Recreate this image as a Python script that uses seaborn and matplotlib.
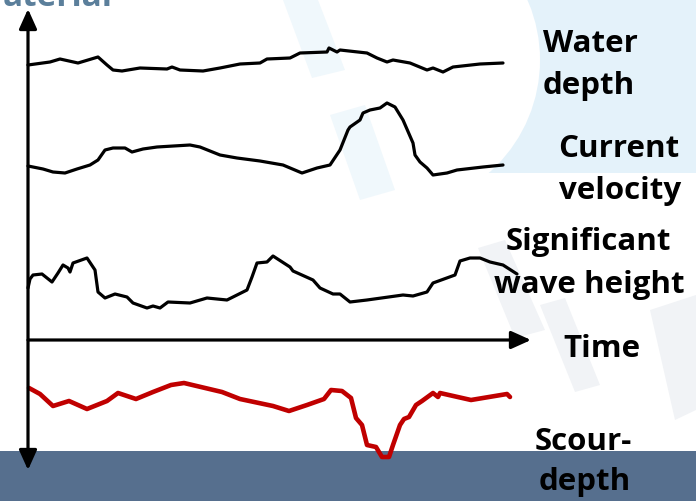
import matplotlib
matplotlib.use("Agg")
import matplotlib.pyplot as plt
import seaborn as sns
import pandas as pd
from matplotlib.patches import Polygon, Rectangle, Circle

sns.set_theme(style="white")
plt.rcParams['font.family'] = ['Open Sans', 'DejaVu Sans']

# ---- data (schematic time series; y in image units) ----
water_t = [28, 50, 60, 78, 98, 107, 113, 122, 140, 167, 172, 180, 203, 220, 240, 260, 267, 290, 300, 327, 329,
           337, 340, 367, 377, 387, 393, 410, 427, 433, 443, 453, 480, 503]
water_v = [65, 62, 59, 63, 57, 65, 70, 71, 68, 69, 67, 70, 71, 68, 64, 63, 59, 58, 53, 52, 48,
           52, 50, 53, 58, 62, 60, 63, 70, 68, 72, 67, 64, 63]

current_t = [28, 43, 53, 65, 77, 90, 98, 105, 113, 125, 132, 143, 157, 190, 200, 220, 237, 260, 283, 302, 317,
             330, 340, 348, 350, 360, 363, 370, 380, 387, 395, 403, 413, 415, 420, 427, 433, 447, 457, 483, 503]
current_v = [166, 169, 172, 173, 169, 165, 160, 150, 148, 148, 152, 149, 147, 145, 147, 155, 158, 161, 165, 173, 168,
             165, 150, 130, 127, 120, 113, 110, 108, 103, 107, 120, 143, 155, 162, 168, 175, 173, 170, 167, 165]

wave_t = [28, 30, 33, 42, 52, 58, 63, 68, 70, 73, 87, 95, 98, 105, 115, 127, 133, 147, 153, 160, 168, 190, 207,
          227, 247, 252, 257, 267, 273, 290, 293, 313, 320, 333, 340, 350, 367, 403, 413, 427, 433, 455, 460,
          470, 480, 490, 503, 517]
wave_v = [288, 279, 275, 274, 282, 273, 265, 268, 272, 263, 258, 270, 292, 298, 294, 297, 303, 308, 306, 308, 302,
          303, 298, 300, 290, 277, 263, 262, 256, 267, 271, 280, 288, 294, 294, 302, 300, 295, 296, 292, 283, 275,
          261, 258, 258, 262, 265, 274]

scour_t = [29, 40, 53, 69, 87, 107, 118, 136, 153, 171, 184, 222, 240, 273, 289, 307, 324, 331, 342, 351, 356,
           362, 367, 376, 382, 389, 393, 400, 404, 409, 416, 422, 433, 438, 440, 471, 507, 510]
scour_v = [388, 394, 406, 401, 409, 401, 393, 399, 392, 385, 383, 392, 399, 406, 411, 405, 399, 390, 391, 398, 418,
           425, 445, 447, 457, 457, 445, 425, 419, 417, 405, 401, 393, 397, 393, 400, 394, 397]

labels = ["Water\ndepth", "Current\nvelocity", "Significant\nwave height", "Time", "Scour-\ndepth"]

# ---- figure ----
fig = plt.figure(figsize=(6.96, 5.01), dpi=100)
ax = fig.add_axes([0, 0, 1, 1])

wm = '#e4f2fa'
# watermark shapes
ax.add_patch(Rectangle((440, 0), 256, 173, facecolor=wm, edgecolor='none', zorder=0))
ax.add_patch(Circle((390, 60), 150, facecolor='white', edgecolor='none', zorder=0.2))
ax.add_patch(Polygon([(283, 0), (318, 0), (345, 70), (312, 78)],
                     closed=True, facecolor='#f0f8fc', edgecolor='none', zorder=0.3))
ax.add_patch(Polygon([(330, 115), (365, 105), (395, 190), (360, 200)],
                     closed=True, facecolor='#f0f8fc', edgecolor='none', zorder=0.3))
ax.add_patch(Polygon([(478, 248), (505, 240), (545, 330), (515, 338)],
                     closed=True, facecolor='#f1f3f6', edgecolor='none', zorder=0.3))
ax.add_patch(Polygon([(540, 305), (565, 298), (600, 385), (575, 392)],
                     closed=True, facecolor='#f1f3f6', edgecolor='none', zorder=0.3))
ax.add_patch(Polygon([(650, 310), (696, 295), (696, 410), (675, 420)],
                     closed=True, facecolor='#f1f3f6', edgecolor='none', zorder=0.3))

# bottom bar
ax.add_patch(Rectangle((0, 451), 696, 60, facecolor='#566f8e', edgecolor='none', zorder=1))

# series
for t, v, c, lw in [(water_t, water_v, 'black', 2.3), (current_t, current_v, 'black', 2.3),
                    (wave_t, wave_v, 'black', 2.3), (scour_t, scour_v, '#c00000', 3.3)]:
    df = pd.DataFrame({'t': t, 'v': v})
    sns.lineplot(data=df, x='t', y='v', ax=ax, color=c, lw=lw, estimator=None, sort=False,
                 solid_joinstyle='round', solid_capstyle='round', zorder=3)
ax.set_xlim(0, 696)
ax.set_ylim(501, 0)
ax.axis('off')

# axes arrows
ax.annotate('', xy=(28, 9), xytext=(28, 470),
            arrowprops=dict(arrowstyle='<|-|>,head_length=1.0,head_width=0.45', color='black', lw=2.3,
                            shrinkA=0, shrinkB=0), zorder=4)
ax.annotate('', xy=(531, 340), xytext=(28, 340),
            arrowprops=dict(arrowstyle='-|>,head_length=1.0,head_width=0.45', color='black', lw=2.3,
                            shrinkA=0, shrinkB=0), zorder=4)

# labels (one text per line, baseline-anchored)
fs = 22.5
kw = dict(fontsize=fs, fontweight='bold', va='baseline', zorder=5, color='black')
w1, w2 = labels[0].split('\n')
ax.text(543, 52, w1, ha='left', **kw)
ax.text(543, 94, w2, ha='left', **kw)
c1, c2 = labels[1].split('\n')
ax.text(679, 157, c1, ha='right', **kw)
ax.text(681, 199, c2, ha='right', **kw)
s1, s2 = labels[2].split('\n')
ax.text(588, 250, s1, ha='center', **kw)
ax.text(589, 293, s2, ha='center', **kw)
ax.text(563, 357, labels[3], ha='left', **kw)
d1, d2 = labels[4].split('\n')
ax.text(583, 450, d1, ha='center', **kw)
ax.text(585, 490, d2, ha='center', **kw)
ax.text(3, 6, 'aterial', ha='left', va='baseline', fontsize=24, fontweight='bold', color='#5b7f9b', zorder=5)

fig.savefig('out.png', dpi=100)
